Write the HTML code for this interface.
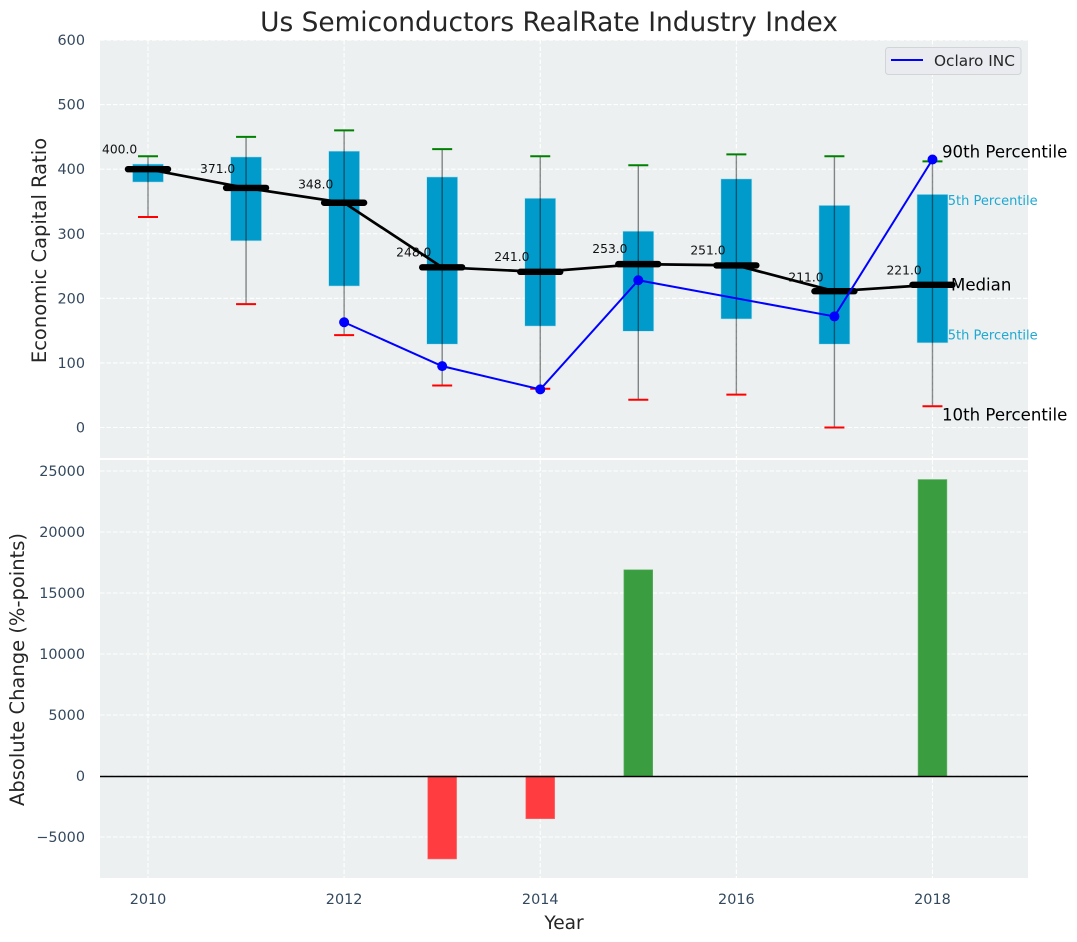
<!DOCTYPE html>
<html>
<head>
<meta charset="utf-8">
<title>Us Semiconductors RealRate Industry Index</title>
<style>
html,body{margin:0;padding:0;background:#fff;width:1077px;height:942px;overflow:hidden}
svg{display:block;font-family:"DejaVu Sans","Liberation Sans",sans-serif}
</style>
</head>
<body>
<svg id="chart" width="1077" height="942" viewBox="0 0 1077 942"></svg>
<script>
const years = [2010, 2011, 2012, 2013, 2014, 2015, 2016, 2017, 2018];
const p10 = [326, 191, 143, 65, 60, 43, 51, 0, 33];
const p25 = [380, 289, 219, 129, 157, 149, 168, 129, 131];
const medians = [400, 371, 348, 248, 241, 253, 251, 211, 221];
const p75 = [408, 419, 428, 388, 355, 304, 385, 344, 361];
const p90 = [420, 450, 460, 431, 420, 406, 423, 420, 412];
const companyYears = [2012, 2013, 2014, 2015, 2017, 2018];
const companyValues = [163, 95, 59, 228, 172, 415];
const changeYears = [2013, 2014, 2015, 2018];
const changeValues = [-6800, -3500, 16900, 24300];
const xTicks = [2010, 2012, 2014, 2016, 2018];
const topTicks = [0, 100, 200, 300, 400, 500, 600];
const bottomTicks = [-5000, 0, 5000, 10000, 15000, 20000, 25000];

const NS = 'http://www.w3.org/2000/svg';
const svg = document.getElementById('chart');
const L = 100, R = 1028, T1 = 40, B1 = 458, T2 = 460, B2 = 878;
function xS(v){ return 148 + (v - 2010) * 98.06; }
function yTop(v){ return 427.5 - v * 0.6458; }
function yBot(v){ return 776 - v * 0.0122; }
function mk(tag, attrs, text){
  const e = document.createElementNS(NS, tag);
  for (const k in attrs) e.setAttribute(k, attrs[k]);
  if (text !== undefined) e.textContent = text;
  svg.appendChild(e);
  return e;
}
function fmt(v){ return v < 0 ? '\u2212' + Math.abs(v) : String(v); }
let n;

// Axes backgrounds
n = mk('rect', {x:L, y:T1, width:R-L, height:B1-T1, fill:'#ecf0f1'});


n = mk('rect', {x:L, y:T2, width:R-L, height:B2-T2, fill:'#ecf0f1'});



const gridStyle = {stroke:'#ffffff', 'stroke-width':1.1, 'stroke-dasharray':'4.5 2'};

// Grid and ticks
xTicks.forEach(function(t){
  n = mk('line', Object.assign({x1:xS(t), x2:xS(t), y1:T1, y2:B1}, gridStyle));
  
  
  n = mk('line', Object.assign({x1:xS(t), x2:xS(t), y1:T2, y2:B2}, gridStyle));
  
  
  n = mk('text', {x:xS(t), y:904, 'text-anchor':'middle', 'font-size':14.4, fill:'#34495e'}, String(t));
  
  
});
topTicks.forEach(function(t){
  n = mk('line', Object.assign({x1:L, x2:R, y1:yTop(t), y2:yTop(t)}, gridStyle));
  
  
  n = mk('text', {x:85, y:yTop(t)+5, 'text-anchor':'end', 'font-size':14.4, fill:'#34495e'}, fmt(t));
  
  
});
bottomTicks.forEach(function(t){
  n = mk('line', Object.assign({x1:L, x2:R, y1:yBot(t), y2:yBot(t)}, gridStyle));
  
  
  n = mk('text', {x:85, y:yBot(t)+5, 'text-anchor':'end', 'font-size':14.4, fill:'#34495e'}, fmt(t));
  
  
});

// Light percentile annotations sit beneath the boxes
const last = years.length - 1;
n = mk('text', {x:939.5, y:yTop(p75[last])+10.5, 'font-size':13, fill:'#1fa8d1'}, '75th Percentile');


n = mk('text', {x:939.5, y:yTop(p25[last])-3.5, 'font-size':13, fill:'#1fa8d1'}, '25th Percentile');



// Boxes and whiskers
years.forEach(function(y, i){
  const cx = xS(y);
  n = mk('rect', {x:cx-15.5, y:yTop(p75[i]), width:31, height:yTop(p25[i])-yTop(p75[i]), fill:'#009bcb', stroke:'#bfe3ef', 'stroke-width':0.6});
  
  
  n = mk('line', {x1:cx, x2:cx, y1:yTop(p90[i]), y2:yTop(p10[i]), stroke:'#000', 'stroke-opacity':0.45, 'stroke-width':1.4});
  
  
  n = mk('line', {x1:cx-10, x2:cx+10, y1:yTop(p90[i]), y2:yTop(p90[i]), stroke:'#008000', 'stroke-width':2});
  
  
  n = mk('line', {x1:cx-10, x2:cx+10, y1:yTop(p10[i]), y2:yTop(p10[i]), stroke:'#ff0000', 'stroke-width':2});
  
  
});

// Median value labels
years.forEach(function(y, i){
  n = mk('text', {x:xS(y)-46, y:yTop(medians[i]*1.05)-3, 'font-size':12.3, fill:'#111'}, medians[i].toFixed(1));
  
  
});

// Median line and thick bars
n = mk('polyline', {points:years.map(function(y,i){return xS(y)+','+yTop(medians[i]);}).join(' '), fill:'none', stroke:'#000', 'stroke-width':2.7});


years.forEach(function(y, i){
  n = mk('line', {x1:xS(y)-20, x2:xS(y)+20, y1:yTop(medians[i]), y2:yTop(medians[i]), stroke:'#000', 'stroke-width':6.4, 'stroke-linecap':'round'});
  
  
});

// Company line
n = mk('polyline', {points:companyYears.map(function(y,i){return xS(y)+','+yTop(companyValues[i]);}).join(' '), fill:'none', stroke:'#0000ff', 'stroke-width':2});


companyYears.forEach(function(y, i){
  n = mk('circle', {cx:xS(y), cy:yTop(companyValues[i]), r:5, fill:'#0000ff'});
  
  
});

// Dark percentile annotations
n = mk('text', {x:942, y:yTop(p90[last])-4, 'font-size':16.6, fill:'#000'}, '90th Percentile');


n = mk('text', {x:951, y:yTop(medians[last])+5.5, 'font-size':16.6, fill:'#000'}, 'Median');


n = mk('text', {x:942, y:yTop(p10[last])+14.5, 'font-size':16.6, fill:'#000'}, '10th Percentile');



// Absolute-change bars
changeYears.forEach(function(y, i){
  const v = changeValues[i];
  const top = Math.min(yBot(v), yBot(0));
  const h = Math.abs(yBot(v) - yBot(0));
  n = mk('rect', {x:xS(y)-14.4, y:top, width:28.8, height:h, fill:v < 0 ? '#ff3c3f' : '#3a9e40', stroke:v < 0 ? '#ff6b6d' : '#62b266', 'stroke-width':0.6});
  
  
});
n = mk('line', {x1:L, x2:R, y1:yBot(0)+0.5, y2:yBot(0)+0.5, stroke:'#000', 'stroke-width':1.4});



// Titles
n = mk('text', {x:549, y:31, 'text-anchor':'middle', 'font-size':26.4, fill:'#262626'}, 'Us Semiconductors RealRate Industry Index');


n = mk('text', {x:564, y:929, 'text-anchor':'middle', 'font-size':18.6, fill:'#262626'}, 'Year');


n = mk('text', {x:46, y:250.5, 'text-anchor':'middle', 'font-size':19.5, fill:'#262626', transform:'rotate(-90 46 250.5)'}, 'Economic Capital Ratio');


n = mk('text', {x:24, y:669.5, 'text-anchor':'middle', 'font-size':19.5, fill:'#262626', transform:'rotate(-90 24 669.5)'}, 'Absolute Change (%-points)');



// Legend
n = mk('rect', {x:885.5, y:47.5, width:135.5, height:27, rx:3, fill:'#e9ebf0', stroke:'#d2d4d6', 'stroke-width':1});


n = mk('line', {x1:891, x2:923, y1:60, y2:60, stroke:'#0000ff', 'stroke-width':1.9});


n = mk('text', {x:934, y:66, 'font-size':15.3, fill:'#262626'}, 'Oclaro INC');


</script>
</body>
</html>
